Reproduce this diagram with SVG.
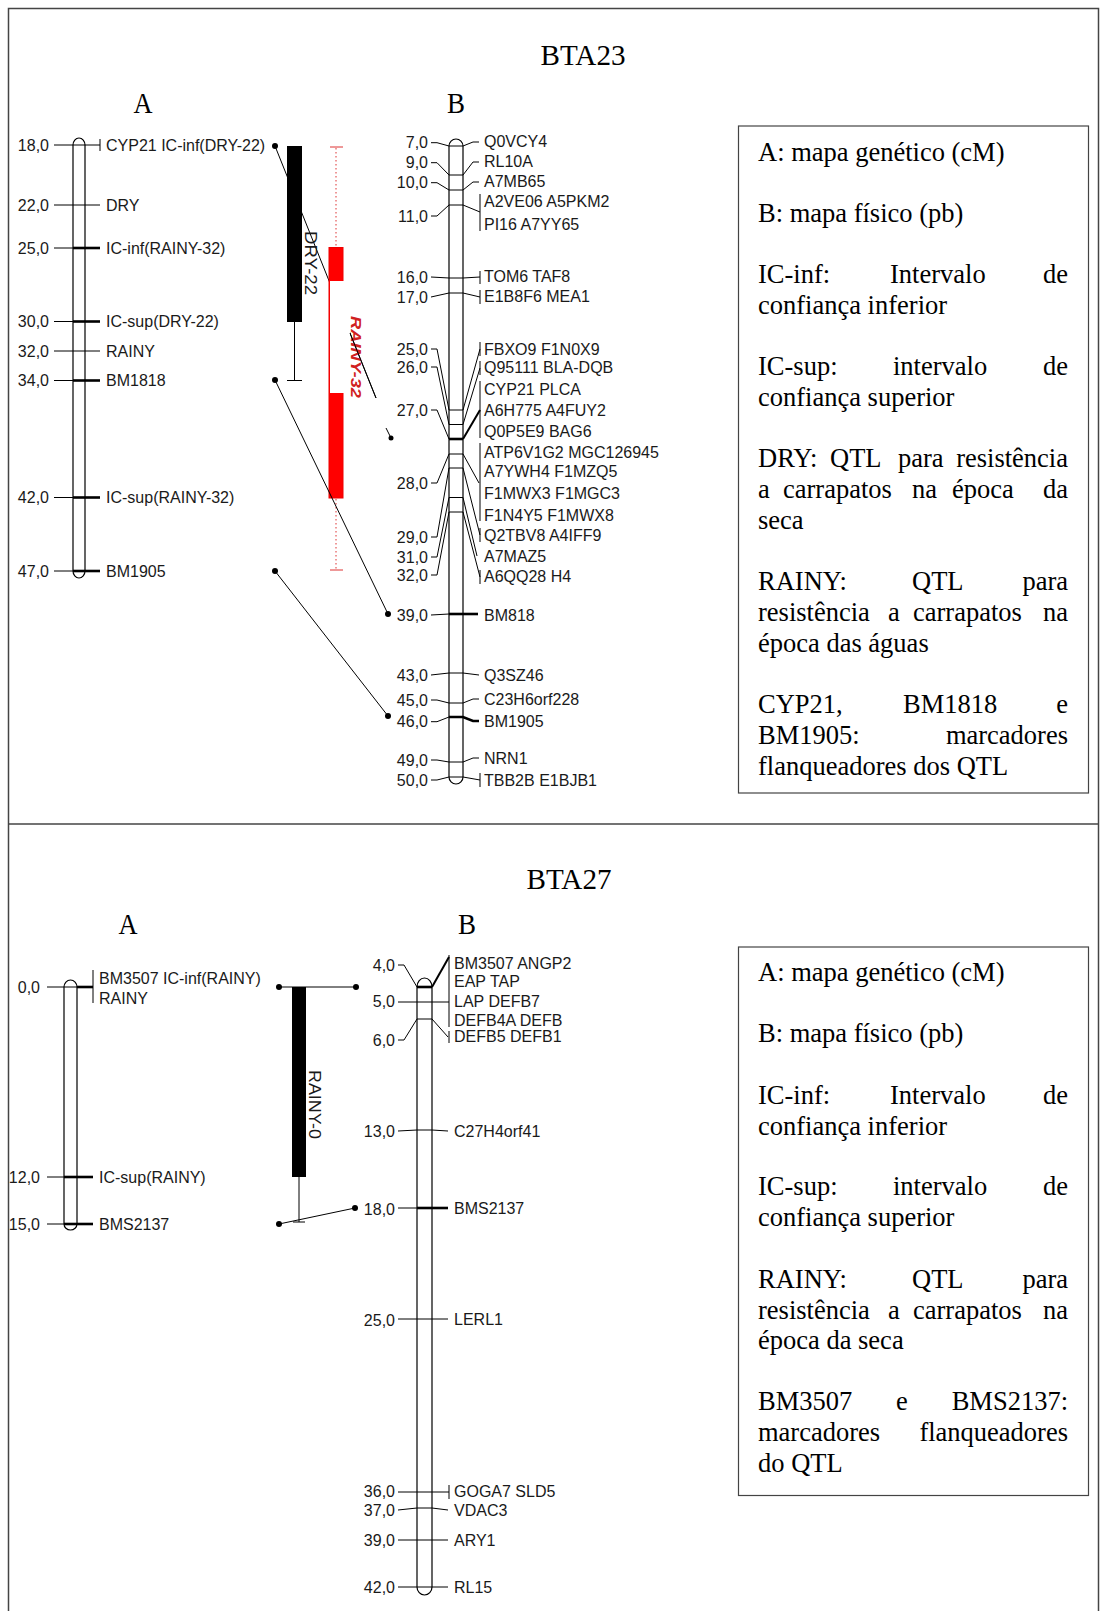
<svg xmlns="http://www.w3.org/2000/svg" width="1100" height="1611" viewBox="0 0 1100 1611">
<style>
.t{font-family:"Liberation Sans",Arial,sans-serif;font-size:16px;fill:#1a1a1a}
.n{font-family:"Liberation Sans",Arial,sans-serif;font-size:16px;fill:#1a1a1a;text-anchor:end}
.lg{font-family:"Liberation Serif","Times New Roman",serif;font-size:26.5px;fill:#000}
.e{text-anchor:end}
.ttl{font-family:"Liberation Serif","Times New Roman",serif;font-size:30px;fill:#000;text-anchor:middle}
.l{stroke:#000;stroke-width:1;fill:none}
.k{stroke:#000;stroke-width:2.6;fill:none}
.chr{fill:#fff;stroke:#000;stroke-width:1.2}
.box{fill:#fff;stroke:#444;stroke-width:1.2}
.dot{fill:#000}
.rd{stroke:#d33;stroke-width:1;fill:none;stroke-dasharray:1.5 2.5}
.rt{stroke:#d33;stroke-width:1;fill:none}
</style>

<g id="frame">
<rect x="8.5" y="8.5" width="1090" height="1640" fill="none" stroke="#444" stroke-width="1.5"/>
<line x1="8.5" y1="824" x2="1099" y2="824" stroke="#444" stroke-width="1.5"/>
</g>

<!-- ================= BTA23 ================= -->
<g id="bta23-titles">
<text class="ttl" x="583" y="64.5" textLength="85" lengthAdjust="spacingAndGlyphs">BTA23</text>
<text class="ttl" x="143" y="113" textLength="19" lengthAdjust="spacingAndGlyphs">A</text>
<text class="ttl" x="456" y="113" textLength="18" lengthAdjust="spacingAndGlyphs">B</text>
</g>

<g id="bta23-mapA">
<path class="chr" d="M73,145 V571 A6,7 0 0 0 85,571 V145 A6,7 0 0 0 73,145 Z"/>
<g class="l">
<line x1="54" y1="145" x2="100" y2="145"/><line x1="100" y1="139" x2="100" y2="151"/>
<line x1="54" y1="205" x2="100" y2="205"/>
<line x1="54" y1="248" x2="100" y2="248"/>
<line x1="54" y1="321.5" x2="100" y2="321.5"/>
<line x1="54" y1="351" x2="100" y2="351"/>
<line x1="54" y1="380.5" x2="100" y2="380.5"/>
<line x1="54" y1="497.5" x2="100" y2="497.5"/>
<line x1="54" y1="571" x2="100" y2="571"/>
</g>
<g class="k">
<line x1="73" y1="248" x2="100" y2="248"/>
<line x1="73" y1="321.5" x2="100" y2="321.5"/>
<line x1="73" y1="380.5" x2="100" y2="380.5"/>
<line x1="73" y1="497.5" x2="100" y2="497.5"/>
<line x1="73" y1="571" x2="100" y2="571"/>
</g>
<text class="n" x="49" y="150.5">18,0</text>
<text class="n" x="49" y="210.5">22,0</text>
<text class="n" x="49" y="253.5">25,0</text>
<text class="n" x="49" y="327">30,0</text>
<text class="n" x="49" y="356.5">32,0</text>
<text class="n" x="49" y="386">34,0</text>
<text class="n" x="49" y="503">42,0</text>
<text class="n" x="49" y="576.5">47,0</text>
<text class="t" x="106" y="150.5">CYP21 IC-inf(DRY-22)</text>
<text class="t" x="106" y="210.5">DRY</text>
<text class="t" x="106" y="253.5">IC-inf(RAINY-32)</text>
<text class="t" x="106" y="327">IC-sup(DRY-22)</text>
<text class="t" x="106" y="356.5">RAINY</text>
<text class="t" x="106" y="386">BM1818</text>
<text class="t" x="106" y="503">IC-sup(RAINY-32)</text>
<text class="t" x="106" y="576.5">BM1905</text>
</g>

<g id="connectors-bta23">
<line class="l" x1="275" y1="146" x2="376" y2="398"/>
<line class="l" x1="386" y1="428" x2="391" y2="438"/>
<circle class="dot" cx="275" cy="146" r="3"/>
<circle class="dot" cx="391" cy="438" r="2.5"/>
</g>

<g id="bta23-qtl-dry22">
<rect x="287" y="146" width="15" height="176" fill="#000"/>
<line class="l" x1="294.5" y1="322" x2="294.5" y2="380.5"/>
<line class="l" x1="287" y1="380.5" x2="302" y2="380.5"/>
<text class="t" transform="translate(305,231) rotate(90)" textLength="64" lengthAdjust="spacingAndGlyphs">DRY-22</text>
</g>

<g id="bta23-qtl-rainy32">
<line class="rd" x1="336" y1="148" x2="336" y2="247"/>
<line class="rt" x1="330" y1="147" x2="343" y2="147"/>
<line class="rd" x1="336" y1="499" x2="336" y2="569"/>
<line class="rt" x1="330" y1="570" x2="343" y2="570"/>
<rect x="329" y="247.5" width="14" height="250.5" fill="#f00" stroke="#e00" stroke-width="1"/>
<rect x="330" y="281" width="20" height="112" fill="#fff"/>
<text transform="translate(351,316) rotate(90)" font-family="Liberation Sans, Arial, sans-serif" font-size="15" font-weight="bold" font-style="italic" fill="#d02020" textLength="82" lengthAdjust="spacingAndGlyphs">RAINY-32</text>
</g>

<g id="connectors-bta23b">
<line class="l" x1="350" y1="333" x2="376" y2="398"/>
<line class="l" x1="275" y1="380" x2="388" y2="614"/>
<line class="l" x1="275" y1="571" x2="388" y2="716"/>
<circle class="dot" cx="275" cy="380" r="3"/>
<circle class="dot" cx="388" cy="614" r="3"/>
<circle class="dot" cx="275" cy="571" r="3"/>
<circle class="dot" cx="388" cy="716" r="3"/>
</g>

<g id="bta23-mapB">
<path class="chr" d="M449,146 V777 A7,7 0 0 0 463,777 V146 A7,7 0 0 0 449,146 Z"/>
<g class="l">
<line x1="449" y1="146" x2="463" y2="146"/>
<line x1="449" y1="175" x2="463" y2="175"/>
<line x1="449" y1="190" x2="463" y2="190"/>
<line x1="449" y1="205" x2="463" y2="205"/>
<line x1="449" y1="278" x2="463" y2="278"/>
<line x1="449" y1="293" x2="463" y2="293"/>
<line x1="449" y1="410" x2="463" y2="410"/>
<line x1="449" y1="424.5" x2="463" y2="424.5"/>
<line x1="449" y1="454" x2="463" y2="454"/>
<line x1="449" y1="468" x2="463" y2="468"/>
<line x1="449" y1="497.5" x2="463" y2="497.5"/>
<line x1="449" y1="512" x2="463" y2="512"/>
<line x1="449" y1="673" x2="463" y2="673"/>
<line x1="449" y1="703" x2="463" y2="703"/>
<line x1="449" y1="762" x2="463" y2="762"/>
<line x1="449" y1="777" x2="463" y2="777"/>
<polyline points="431,142.7 437,142.7 449,146"/>
<polyline points="431,162.7 437,162.7 449,175"/>
<polyline points="431,182.7 437,182.7 449,190"/>
<polyline points="431,216 437,216 449,205"/>
<polyline points="431,277 449,278"/>
<polyline points="431,297 449,293"/>
<polyline points="431,349 437,349 449,410"/>
<polyline points="431,367 437,367 449,424.5"/>
<polyline points="431,410 437,410 449,439"/>
<polyline points="431,483 437,483 449,454"/>
<polyline points="431,537 437,537 449,468"/>
<polyline points="431,557 437,557 449,497.5"/>
<polyline points="431,575 437,575 449,512"/>
<polyline points="431,615 449,614"/>
<polyline points="431,675 449,673"/>
<polyline points="431,700 437,700 449,703"/>
<polyline points="431,721.7 437,721.7 449,717"/>
<polyline points="431,760 437,760 449,762"/>
<polyline points="431,780 437,780 449,777"/>
<polyline points="463,146 473,142 479,142"/>
<polyline points="463,175 473,162 479,162"/>
<polyline points="463,190 473,182 479,182"/>
<polyline points="463,205 480,212"/><line x1="480" y1="194" x2="480" y2="231"/>
<polyline points="463,278 480,277"/><line x1="480" y1="271" x2="480" y2="284"/>
<polyline points="463,293 480,297"/><line x1="480" y1="290" x2="480" y2="304"/>
<polyline points="463,410 480,349"/><line x1="480" y1="342" x2="480" y2="356"/>
<polyline points="463,424.5 480,368"/><line x1="480" y1="361" x2="480" y2="375"/>
<line x1="480" y1="381" x2="480" y2="438"/>
<polyline points="463,454 479,483"/><line x1="480" y1="443" x2="480" y2="521"/>
<polyline points="463,468 480,535"/><line x1="480" y1="528" x2="480" y2="542"/>
<polyline points="463,497.5 477,556"/>
<polyline points="463,512 480,577"/><line x1="480" y1="570" x2="480" y2="584"/>
<polyline points="463,673 479,675"/>
<polyline points="463,703 473,699 479,699"/>
<polyline points="463,762 473,758 479,758"/>
<polyline points="463,777 480,780"/><line x1="480" y1="773" x2="480" y2="787"/>
</g>
<g class="k">
<line x1="449" y1="439" x2="463" y2="439"/>
<line x1="463" y1="439" x2="480" y2="410" stroke-width="2"/>
<line x1="449" y1="614" x2="478" y2="614"/>
<polyline points="449,717 463,717 473,721 479,721"/>
</g>
<g>
<text class="n" x="428" y="148.3">7,0</text>
<text class="n" x="428" y="168.3">9,0</text>
<text class="n" x="428" y="188.3">10,0</text>
<text class="n" x="428" y="221.6">11,0</text>
<text class="n" x="428" y="282.6">16,0</text>
<text class="n" x="428" y="302.6">17,0</text>
<text class="n" x="428" y="354.6">25,0</text>
<text class="n" x="428" y="372.6">26,0</text>
<text class="n" x="428" y="415.6">27,0</text>
<text class="n" x="428" y="488.6">28,0</text>
<text class="n" x="428" y="542.6">29,0</text>
<text class="n" x="428" y="562.6">31,0</text>
<text class="n" x="428" y="580.6">32,0</text>
<text class="n" x="428" y="620.6">39,0</text>
<text class="n" x="428" y="680.6">43,0</text>
<text class="n" x="428" y="705.6">45,0</text>
<text class="n" x="428" y="727.3">46,0</text>
<text class="n" x="428" y="765.6">49,0</text>
<text class="n" x="428" y="785.6">50,0</text>
</g>
<g>
<text class="t" x="484" y="147.3">Q0VCY4</text>
<text class="t" x="484" y="167.3">RL10A</text>
<text class="t" x="484" y="187.3">A7MB65</text>
<text class="t" x="484" y="207.3">A2VE06 A5PKM2</text>
<text class="t" x="484" y="229.6">PI16 A7YY65</text>
<text class="t" x="484" y="282.3">TOM6 TAF8</text>
<text class="t" x="484" y="302.3">E1B8F6 MEA1</text>
<text class="t" x="484" y="354.9">FBXO9 F1N0X9</text>
<text class="t" x="484" y="373.3">Q95111 BLA-DQB</text>
<text class="t" x="484" y="394.9">CYP21 PLCA</text>
<text class="t" x="484" y="415.6">A6H775 A4FUY2</text>
<text class="t" x="484" y="437.3">Q0P5E9 BAG6</text>
<text class="t" x="484" y="457.9">ATP6V1G2 MGC126945</text>
<text class="t" x="484" y="477.3">A7YWH4 F1MZQ5</text>
<text class="t" x="484" y="498.9">F1MWX3 F1MGC3</text>
<text class="t" x="484" y="520.6">F1N4Y5 F1MWX8</text>
<text class="t" x="484" y="540.6">Q2TBV8 A4IFF9</text>
<text class="t" x="484" y="561.6">A7MAZ5</text>
<text class="t" x="484" y="582.3">A6QQ28 H4</text>
<text class="t" x="484" y="620.6">BM818</text>
<text class="t" x="484" y="680.6">Q3SZ46</text>
<text class="t" x="484" y="704.9">C23H6orf228</text>
<text class="t" x="484" y="727.3">BM1905</text>
<text class="t" x="484" y="763.9">NRN1</text>
<text class="t" x="484" y="785.6">TBB2B E1BJB1</text>
</g>
</g>

<g id="bta23-legend">
<rect class="box" x="738.5" y="126" width="350" height="667"/>
<text class="lg" x="758" y="161">A: mapa genético (cM)</text>
<text class="lg" x="758" y="222">B: mapa físico (pb)</text>
<text class="lg" x="758" y="283">IC-inf:</text><text class="lg" x="890" y="283">Intervalo</text><text class="lg e" x="1068" y="283">de</text>
<text class="lg" x="758" y="314">confiança inferior</text>
<text class="lg" x="758" y="375">IC-sup:</text><text class="lg" x="893" y="375">intervalo</text><text class="lg e" x="1068" y="375">de</text>
<text class="lg" x="758" y="406">confiança superior</text>
<text class="lg" x="758" y="467">DRY:</text><text class="lg" x="830" y="467">QTL</text><text class="lg" x="898" y="467">para</text><text class="lg e" x="1068" y="467">resistência</text>
<text class="lg" x="758" y="498">a</text><text class="lg" x="783" y="498">carrapatos</text><text class="lg" x="912" y="498">na</text><text class="lg" x="952" y="498">época</text><text class="lg e" x="1068" y="498">da</text>
<text class="lg" x="758" y="529">seca</text>
<text class="lg" x="758" y="590">RAINY:</text><text class="lg" x="912" y="590">QTL</text><text class="lg e" x="1068" y="590">para</text>
<text class="lg" x="758" y="621">resistência</text><text class="lg" x="888" y="621">a</text><text class="lg" x="913" y="621">carrapatos</text><text class="lg e" x="1068" y="621">na</text>
<text class="lg" x="758" y="652">época das águas</text>
<text class="lg" x="758" y="713">CYP21,</text><text class="lg" x="903" y="713">BM1818</text><text class="lg e" x="1068" y="713">e</text>
<text class="lg" x="758" y="744">BM1905:</text><text class="lg e" x="1068" y="744">marcadores</text>
<text class="lg" x="758" y="775">flanqueadores dos QTL</text>
</g>

<!-- ================= BTA27 ================= -->
<g id="bta27-titles">
<text class="ttl" x="569" y="889" textLength="85" lengthAdjust="spacingAndGlyphs">BTA27</text>
<text class="ttl" x="128" y="934" textLength="19" lengthAdjust="spacingAndGlyphs">A</text>
<text class="ttl" x="467" y="934" textLength="18" lengthAdjust="spacingAndGlyphs">B</text>
</g>

<g id="bta27-mapA">
<path class="chr" d="M64,987 V1224 A6.5,6 0 0 0 77,1224 V987 A6.5,7 0 0 0 64,987 Z"/>
<g class="l">
<line x1="47" y1="987" x2="93" y2="987"/><line x1="93" y1="970" x2="93" y2="1003"/>
<line x1="47" y1="1177" x2="93" y2="1177"/>
<line x1="47" y1="1224" x2="93" y2="1224"/>
</g>
<g class="k">
<line x1="77" y1="987" x2="93" y2="987"/>
<line x1="64" y1="1177" x2="93" y2="1177"/>
<line x1="64" y1="1224" x2="93" y2="1224"/>
</g>
<text class="n" x="40" y="992.6">0,0</text>
<text class="n" x="40" y="1182.6">12,0</text>
<text class="n" x="40" y="1229.6">15,0</text>
<text class="t" x="99" y="983.6">BM3507 IC-inf(RAINY)</text>
<text class="t" x="99" y="1003.6">RAINY</text>
<text class="t" x="99" y="1182.6">IC-sup(RAINY)</text>
<text class="t" x="99" y="1229.6">BMS2137</text>
</g>

<g id="bta27-qtl-rainy0">
<rect x="292" y="987" width="14" height="190" fill="#000"/>
<line class="l" x1="299" y1="1177" x2="299" y2="1222"/>
<line class="l" x1="293" y1="1222" x2="305" y2="1222"/>
<text class="t" transform="translate(309,1070) rotate(90)" textLength="69" lengthAdjust="spacingAndGlyphs">RAINY-0</text>
</g>

<g id="connectors-bta27">
<line class="l" x1="279" y1="987" x2="356" y2="987"/>
<line class="l" x1="279" y1="1224" x2="355" y2="1208"/>
<circle class="dot" cx="279" cy="987" r="3"/>
<circle class="dot" cx="356" cy="987" r="3"/>
<circle class="dot" cx="279" cy="1224" r="3"/>
<circle class="dot" cx="355" cy="1208" r="3"/>
</g>

<g id="bta27-mapB">
<path class="chr" d="M417,987 V1587 A7.5,8 0 0 0 432,1587 V987 A7.5,9 0 0 0 417,987 Z"/>
<g class="l">
<line x1="417" y1="1002" x2="432" y2="1002"/>
<line x1="417" y1="1019" x2="432" y2="1019"/>
<line x1="417" y1="1130" x2="432" y2="1130"/>
<line x1="417" y1="1319" x2="432" y2="1319"/>
<line x1="417" y1="1492" x2="432" y2="1492"/>
<line x1="417" y1="1508" x2="432" y2="1508"/>
<line x1="417" y1="1540" x2="432" y2="1540"/>
<line x1="417" y1="1587" x2="432" y2="1587"/>
<polyline points="398,965 404,965 417,987"/>
<polyline points="398,1002 417,1002"/>
<polyline points="398,1040 404,1040 417,1019"/>
<polyline points="398,1131 417,1130"/>
<polyline points="398,1208 417,1208"/>
<polyline points="398,1319 417,1319"/>
<polyline points="398,1492 417,1492"/>
<polyline points="398,1510 417,1508"/>
<polyline points="398,1540 417,1540"/>
<polyline points="398,1587 417,1587"/>
<line x1="449" y1="955" x2="449" y2="1027"/>
<polyline points="432,1002 449,1002"/>
<polyline points="432,1019 448,1037"/><line x1="449" y1="1031" x2="449" y2="1043"/>
<polyline points="432,1130 448,1131"/>
<polyline points="432,1319 448,1319"/>
<polyline points="432,1492 449,1492"/><line x1="449" y1="1485" x2="449" y2="1499"/>
<polyline points="432,1508 448,1510"/>
<polyline points="432,1540 448,1540"/>
<polyline points="432,1587 448,1587"/>
</g>
<g class="k">
<line x1="417" y1="987" x2="432" y2="987"/>
<line x1="432" y1="987" x2="449" y2="957" stroke-width="2"/>
<line x1="417" y1="1208" x2="448" y2="1208"/>
</g>
<text class="n" x="395" y="970.6">4,0</text>
<text class="n" x="395" y="1007.3">5,0</text>
<text class="n" x="395" y="1045.6">6,0</text>
<text class="n" x="395" y="1137.3">13,0</text>
<text class="n" x="395" y="1214.6">18,0</text>
<text class="n" x="395" y="1325.6">25,0</text>
<text class="n" x="395" y="1497.3">36,0</text>
<text class="n" x="395" y="1515.6">37,0</text>
<text class="n" x="395" y="1545.6">39,0</text>
<text class="n" x="395" y="1592.6">42,0</text>
<text class="t" x="454" y="968.9">BM3507 ANGP2</text>
<text class="t" x="454" y="987.3">EAP TAP</text>
<text class="t" x="454" y="1007.3">LAP DEFB7</text>
<text class="t" x="454" y="1025.6">DEFB4A DEFB</text>
<text class="t" x="454" y="1042.3">DEFB5 DEFB1</text>
<text class="t" x="454" y="1137.3">C27H4orf41</text>
<text class="t" x="454" y="1213.6">BMS2137</text>
<text class="t" x="454" y="1324.6">LERL1</text>
<text class="t" x="454" y="1497.3">GOGA7 SLD5</text>
<text class="t" x="454" y="1515.6">VDAC3</text>
<text class="t" x="454" y="1545.6">ARY1</text>
<text class="t" x="454" y="1592.6">RL15</text>
</g>

<g id="bta27-legend">
<rect class="box" x="738.5" y="947" width="350" height="548.5"/>
<text class="lg" x="758" y="980.5">A: mapa genético (cM)</text>
<text class="lg" x="758" y="1042">B: mapa físico (pb)</text>
<text class="lg" x="758" y="1104">IC-inf:</text><text class="lg" x="890" y="1104">Intervalo</text><text class="lg e" x="1068" y="1104">de</text>
<text class="lg" x="758" y="1134.5">confiança inferior</text>
<text class="lg" x="758" y="1195">IC-sup:</text><text class="lg" x="893" y="1195">intervalo</text><text class="lg e" x="1068" y="1195">de</text>
<text class="lg" x="758" y="1226">confiança superior</text>
<text class="lg" x="758" y="1287.5">RAINY:</text><text class="lg" x="912" y="1287.5">QTL</text><text class="lg e" x="1068" y="1287.5">para</text>
<text class="lg" x="758" y="1318.5">resistência</text><text class="lg" x="888" y="1318.5">a</text><text class="lg" x="913" y="1318.5">carrapatos</text><text class="lg e" x="1068" y="1318.5">na</text>
<text class="lg" x="758" y="1349">época da seca</text>
<text class="lg" x="758" y="1410">BM3507</text><text class="lg" x="896" y="1410">e</text><text class="lg e" x="1068" y="1410">BMS2137:</text>
<text class="lg" x="758" y="1440.5">marcadores</text><text class="lg e" x="1068" y="1440.5">flanqueadores</text>
<text class="lg" x="758" y="1471.5">do QTL</text>
</g>
</svg>
